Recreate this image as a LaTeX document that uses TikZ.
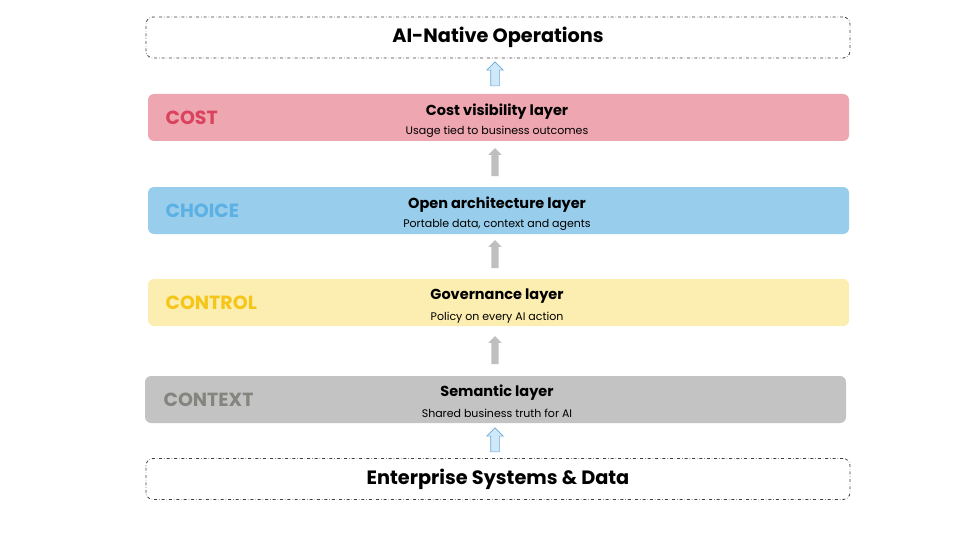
\documentclass[tikz,border=0pt]{standalone}
\usepackage{fontspec}
\setmainfont{Poppins}
\usetikzlibrary{shapes.arrows}
\definecolor{costf}{HTML}{EEA6B0}\definecolor{costt}{HTML}{D9435E}
\definecolor{choif}{HTML}{98CDEC}\definecolor{choit}{HTML}{5BB0E4}
\definecolor{contf}{HTML}{FCEDB0}\definecolor{contt}{HTML}{F5C518}
\definecolor{ctxf}{HTML}{C3C3C3}\definecolor{ctxt}{HTML}{85857F}
\definecolor{arrb}{HTML}{CFE9FA}\definecolor{arrbd}{HTML}{6FA9D6}
\begin{document}
\begin{tikzpicture}[x=1pt,y=-1pt,
 dbox/.style={draw=black!75,dash dot,line width=0.8pt,rounded corners=7pt,minimum width=704pt,minimum height=41pt,font=\fontsize{19.3}{22}\selectfont\bfseries},
 layer/.style={rounded corners=6pt,minimum width=701pt,minimum height=47pt},
 lab/.style={anchor=west,font=\fontsize{19}{21}\selectfont\bfseries},
 ttl/.style={font=\fontsize{14.5}{16}\selectfont\bfseries},
 sub/.style={font=\fontsize{11}{12}\selectfont},
 barr/.style={single arrow,shape border rotate=90,draw=arrbd,fill=arrb,line width=0.6pt,inner sep=4pt,single arrow head extend=4pt,single arrow head indent=0pt,minimum height=24pt},
 garr/.style={single arrow,shape border rotate=90,fill=black!25,inner sep=3.5pt,single arrow head extend=3pt,minimum height=28pt}]
\useasboundingbox (0,0) rectangle (960,540);
\node[dbox] (top) at (498,37.5) {AI-Native Operations};
\node[dbox] (bot) at (498,479) {Enterprise Systems \& Data};
\node[layer,fill=costf] (cost) at (498.5,117.5) {};
\node[layer,fill=choif] (choice) at (498.5,210.5) {};
\node[layer,fill=contf] (control) at (498.5,302.5) {};
\node[layer,fill=ctxf] (context) at (495.5,399.5) {};
\node[lab,text=costt] (l1) at (162,118) {COST};
\node[lab,text=choit] (l2) at (162,211) {CHOICE};
\node[lab,text=contt] (l3) at (162,303) {CONTROL};
\node[lab,text=ctxt] (l4) at (160,400) {CONTEXT};
\node[ttl] (t1) at (497,112) {Cost visibility layer};
\node[sub] (s1) at (497,132) {Usage tied to business outcomes};
\node[ttl] (t2) at (497,204.5) {Open architecture layer};
\node[sub] (s2) at (497,225) {Portable data, context and agents};
\node[ttl] (t3) at (497,296.5) {Governance layer};
\node[sub] (s3) at (497,318) {Policy on every AI action};
\node[ttl] (t4) at (497,392.5) {Semantic layer};
\node[sub] (s4) at (497,413) {Shared business truth for AI};
\node[barr] (a1) at (495,76) {};
\node[garr] (a2) at (495,164) {};
\node[garr] (a3) at (495,256) {};
\node[garr] (a4) at (495,352) {};
\node[barr] (a5) at (495,442) {};
\end{tikzpicture}
\end{document}
